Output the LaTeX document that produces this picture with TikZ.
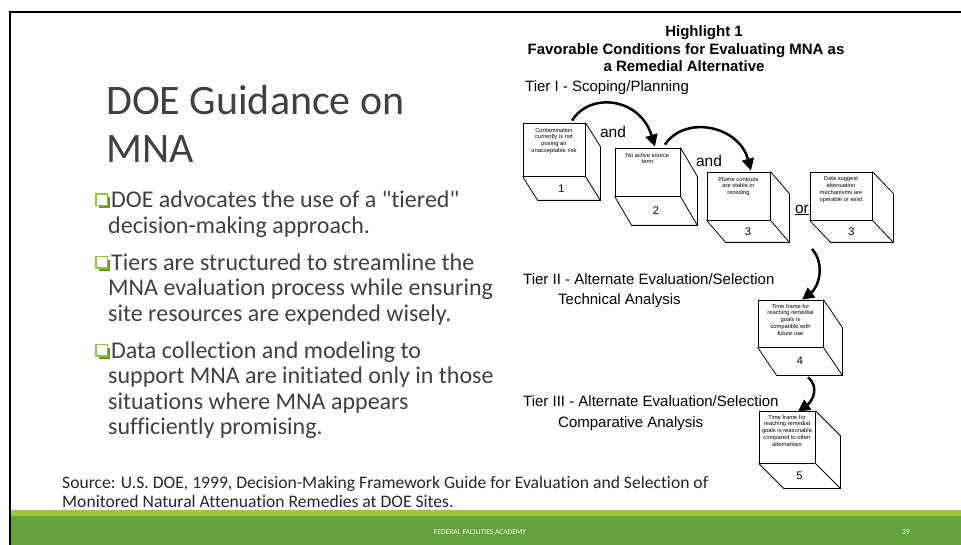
\documentclass[tikz,border=0pt]{standalone}
\usepackage{fontspec}
\setmainfont{Carlito}
\newfontfamily\carl[Ligatures={NoCommon,NoContextual}]{Carlito}
\newfontfamily\arialf{Liberation Sans}
\usetikzlibrary{calc,arrows.meta}
\definecolor{txtgray}{HTML}{404040}
\definecolor{srcgray}{HTML}{262626}
\definecolor{lightgreen}{HTML}{9BC83B}
\definecolor{darkgreen}{HTML}{61A339}
\definecolor{bulletgreen}{HTML}{8CC63F}
\newcommand{\drawcube}[3]{%
  \draw[cubeline] (#1.north east) -- ++(#2,#3) -- ($(#1.south east)+(#2,#3)$) -- ($(#1.south west)+(#2,#3)$) -- (#1.south west);
  \draw[cubeline] (#1.south east) -- ++(#2,#3);}
\newcommand{\bulleticon}[2]{%
  \fill[bulletgreen!75!black] (#1+2.5,#2-11) rectangle (#1+14,#2+0.5);
  \filldraw[fill=white,draw=bulletgreen,line width=1.4pt] (#1,#2-14) rectangle (#1+11.5,#2-2.5);}
\begin{document}
\begin{tikzpicture}[x=1pt,y=-1pt,
  cubeline/.style={line width=0.8pt},
  face/.style={draw,line width=0.8pt,inner sep=0pt},
  facetext/.style={anchor=north,align=center,inner sep=0pt,font=\arialf\fontsize{5.8}{6.8}\selectfont},
  cubenum/.style={font=\arialf\fontsize{11}{12}\selectfont,inner sep=0pt},
  head/.style={font=\arialf\bfseries\fontsize{15}{17}\selectfont,inner sep=0pt,anchor=base},
  tier/.style={font=\arialf\fontsize{15}{17}\selectfont,inner sep=0pt,anchor=base west},
  body/.style={font=\carl\fontsize{24}{28}\selectfont,text=txtgray,inner sep=0pt,anchor=base west},
  src/.style={font=\carl\fontsize{17.6}{20}\selectfont,text=srcgray,inner sep=0pt,anchor=base west},
  arr/.style={line width=2.5pt,-{Triangle[length=12pt,width=12pt]}},
  foot/.style={font=\carl\fontsize{7.5}{9}\selectfont,text=white,inner sep=0pt}
]
\useasboundingbox (0,0) rectangle (961,545);
\fill[white] (0,0) rectangle (961,545);
% footer bar
\fill[lightgreen] (10,510) rectangle (961,516);
\fill[darkgreen] (10,516) rectangle (961,545);
\draw[line width=2.2pt] (10,545) -- (10,12) -- (961,12);
\node[foot] (footer) at (480,532) {FEDERAL FACILITIES ACADEMY};
\node[foot] (pageno) at (906,532) {39};

% title
\node[font=\carl\fontsize{42}{46}\selectfont,text=txtgray,inner sep=0pt,anchor=base west] (t1) at (106,115) {DOE Guidance on};
\node[font=\carl\fontsize{42}{46}\selectfont,text=txtgray,inner sep=0pt,anchor=base west] (t2) at (106,163) {MNA};

% bullets
\bulleticon{96}{208}
\node[body] (l1) at (111,208) {DOE advocates the use of a "tiered"};
\node[body] (l2) at (108,233.2) {decision-making approach.};
\bulleticon{96}{270.7}
\node[body] (l3) at (111,270.7) {Tiers are structured to streamline the};
\node[body] (l4) at (108,295.9) {MNA evaluation process while ensuring};
\node[body] (l5) at (108,321.1) {site resources are expended wisely.};
\bulleticon{96}{358.6}
\node[body] (l6) at (111,358.6) {Data collection and modeling to};
\node[body] (l7) at (108,383.8) {support MNA are initiated only in those};
\node[body] (l8) at (108,409) {situations where MNA appears};
\node[body] (l9) at (108,434.2) {sufficiently promising.};

% source
\node[src] (s1) at (62,488) {Source: U.S. DOE, 1999, Decision-Making Framework Guide for Evaluation and Selection of};
\node[src] (s2) at (62,507) {Monitored Natural Attenuation Remedies at DOE Sites.};

% diagram headings
\node[head] (h1) at (704,37) {Highlight 1};
\node[head] (h2) at (686,55) {Favorable Conditions for Evaluating MNA as};
\node[head] (h3) at (684,72) {a Remedial Alternative};
\node[tier] (tierA) at (525,92) {Tier I - Scoping/Planning};
\node[tier] (tierB) at (523,285) {Tier II - Alternate Evaluation/Selection};
\node[tier] (tierB2) at (558,305) {Technical Analysis};
\node[tier] (tierC) at (523,406) {Tier III - Alternate Evaluation/Selection};
\node[tier] (tierC2) at (558,427) {Comparative Analysis};

% cubes
\node[face,minimum width=62pt,minimum height=53pt] (b1) at (554,149.5) {};
\drawcube{b1}{15}{24}
\node[facetext] (b1t) at ($(b1.north)+(0,5)$) {Contamination\\currently is not\\posing an\\unacceptable risk};
\node[cubenum] (b1n) at ($(b1.south)+(7.5,12)$) {1};

\node[face,minimum width=65pt,minimum height=48pt] (b2) at (647.5,172) {};
\drawcube{b2}{17}{29}
\node[facetext] (b2t) at ($(b2.north)+(0,5)$) {No active source\\term};
\node[cubenum] (b2n) at ($(b2.south)+(8.5,14)$) {2};

\node[face,minimum width=63pt,minimum height=48pt] (b3) at (738.5,196) {};
\drawcube{b3}{19}{22}
\node[facetext] (b3t) at ($(b3.north)+(0,5)$) {Plume contours\\are stable or\\receding};
\node[cubenum] (b3n) at ($(b3.south)+(9.5,11)$) {3};

\node[face,minimum width=62pt,minimum height=48pt] (b3b) at (841,196) {};
\drawcube{b3b}{21}{22}
\node[facetext] (b3bt) at ($(b3b.north)+(0,5)$) {Data suggest\\attenuation\\mechanisms are\\operable or exist};
\node[cubenum] (b3bn) at ($(b3b.south)+(10.5,11)$) {3};

\node[font=\arialf\fontsize{15.5}{17}\selectfont,inner sep=0pt] (or) at (802,210) {\underline{or}};

\node[face,minimum width=65pt,minimum height=47pt] (b4) at (790.5,323.5) {};
\drawcube{b4}{19}{28}
\node[facetext] (b4t) at ($(b4.north)+(0,4)$) {Time frame for\\reaching remedial\\goals is\\compatible with\\future use};
\node[cubenum] (b4n) at ($(b4.south)+(9.5,13)$) {4};

\node[face,minimum width=56pt,minimum height=52pt] (b5) at (787,437) {};
\drawcube{b5}{25}{25}
\node[facetext] (b5t) at ($(b5.north)+(0,4)$) {Time frame for\\reaching remedial\\goals is reasonable\\compared to other\\alternatives};
\node[cubenum] (b5n) at ($(b5.south)+(12.5,12.5)$) {5};

% and labels
\node[font=\arialf\fontsize{15.5}{17}\selectfont,inner sep=0pt] (and1) at (613,132) {and};
\node[font=\arialf\fontsize{15.5}{17}\selectfont,inner sep=0pt] (and2) at (709,161) {and};

% arrows
\draw[arr] ($(b1.north)+(18,-2)$) .. controls +(18,-29) and +(-15,-49) .. ($(b2.north)+(7.5,-1)$);
\draw[arr] ($(b2.north)+(17.5,-3)$) .. controls +(20,-30) and +(-12,-45) .. ($(b3.north)+(12.5,-1)$);
\coordinate (a3s) at (812,249);
\draw[arr] (a3s) .. controls +(14,16) and +(16,-12) .. ($(b4.north)+(11.5,0)$);
\draw[arr] ($(b4.south)+(17.5,30)$) .. controls +(12,10) and +(14,-10) .. ($(b5.north)+(11,1)$);
\end{tikzpicture}
\end{document}
